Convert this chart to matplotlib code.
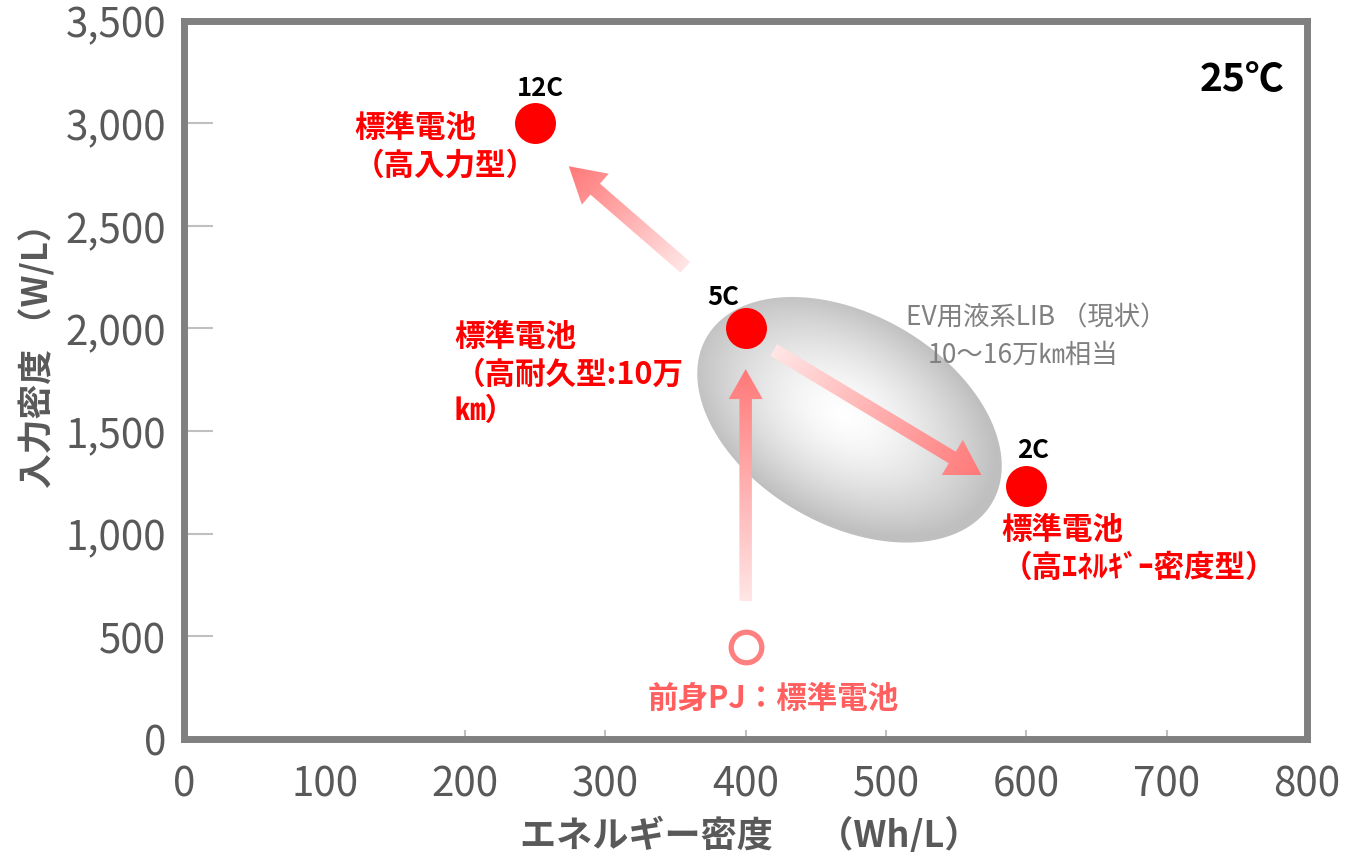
import numpy as np
import matplotlib.pyplot as plt
from matplotlib.patches import Polygon
from matplotlib.ticker import FuncFormatter
from matplotlib.colors import to_rgb

plt.rcParams['font.family'] = ['Noto Sans CJK JP', 'DejaVu Sans']

# cells at 25 degC: energy density (Wh/L) vs input power density (W/L)
rates = ['12C', '5C', '2C']
energy = [250, 400, 600]
power = [3000, 2000, 1230]
names = ['標準電池\n（高入力型）',
         '標準電池\n（高耐久型:10万\n㎞）',
         '標準電池\n（高ｴﾈﾙｷﾞｰ密度型）']

# predecessor project cell
prev_energy = [400]
prev_power = [450]
prev_name = '前身PJ：標準電池'

# arrows (tail -> head) in data units
arrow_tail = [(400, 670), (420, 1895), (357, 2298)]
arrow_head = [(400, 1802), (568, 1286), (274, 2790)]

xticks = [0, 100, 200, 300, 400, 500, 600, 700, 800]
yticks = [0, 500, 1000, 1500, 2000, 2500, 3000, 3500]

# figure / axes geometry in pixels
W, H = 1350, 853
AX_L, AX_R, AX_T, AX_B = 184.3, 1307.0, 21.5, 740.0
sx = (AX_R - AX_L) / 800.0
sy = (AX_B - AX_T) / 3500.0


def fig_xy(px, py):
    return px / W, 1 - py / H


def gradient_fill(ax, poly_px, value_fn, color_fn, zorder):
    # poly_px is in pixels measured from the axes origin (y up)
    verts = np.column_stack([poly_px[:, 0] / sx, poly_px[:, 1] / sy])
    patch = Polygon(verts, closed=True, fc='none', ec='none')
    ax.add_patch(patch)
    x0, y0 = poly_px.min(0)
    x1, y1 = poly_px.max(0)
    nx = int(x1 - x0) + 2
    ny = int(y1 - y0) + 2
    gx, gy = np.meshgrid(np.linspace(x0, x1, nx), np.linspace(y1, y0, ny))
    rgb = color_fn(value_fn(gx, gy))
    im = ax.imshow(rgb, extent=[x0 / sx, x1 / sx, y0 / sy, y1 / sy],
                   aspect='auto', interpolation='bilinear', origin='upper',
                   zorder=zorder)
    im.set_clip_path(patch)


def arrow_poly(p0, p1, shaft, head, head_len):
    p0 = np.array(p0, float)
    p1 = np.array(p1, float)
    u = (p1 - p0) / np.linalg.norm(p1 - p0)
    n = np.array([-u[1], u[0]])
    b = p1 - u * head_len
    return np.array([p0 + n * shaft / 2, b + n * shaft / 2, b + n * head / 2, p1,
                     b - n * head / 2, b - n * shaft / 2, p0 - n * shaft / 2])


def main():
    fig = plt.figure(figsize=(W / 100, H / 100), dpi=100)
    ax = fig.add_axes([AX_L / W, 1 - AX_B / H, (AX_R - AX_L) / W, (AX_B - AX_T) / H])

    # grey ellipse with a white centre (current liquid LIB for EV)
    cx, cy = 474 * sx, 1555 * sy
    ea, eb, ang = 165.0, 105.0, np.deg2rad(-30)
    t = np.linspace(0, 2 * np.pi, 300)
    ex = cx + ea * np.cos(t) * np.cos(ang) - eb * np.sin(t) * np.sin(ang)
    ey = cy + ea * np.cos(t) * np.sin(ang) + eb * np.sin(t) * np.cos(ang)
    ell = np.column_stack([ex, ey])

    def ell_r(gx, gy):
        dx, dy = gx - (cx - 6), gy - (cy + 6)
        u = dx * np.cos(ang) + dy * np.sin(ang)
        v = -dx * np.sin(ang) + dy * np.cos(ang)
        return np.clip(np.sqrt((u / ea) ** 2 + (v / eb) ** 2), 0, 1)

    def ell_col(r):
        g = 0.75 + 0.25 * (1 - r ** 1.5)
        return np.dstack([g, g, g])

    gradient_fill(ax, ell, ell_r, ell_col, zorder=1)

    # pink arrows, pale at the tail and stronger at the head
    tail_c = np.array(to_rgb('#ffe6e6'))
    head_c = np.array(to_rgb('#ff7878'))
    sizes = [(12.5, 34, 30), (13.5, 41, 34), (14.5, 41, 35)]
    for (t0, t1), (shaft, head, hl) in zip(zip(arrow_tail, arrow_head), sizes):
        p0 = np.array([t0[0] * sx, t0[1] * sy])
        p1 = np.array([t1[0] * sx, t1[1] * sy])
        d = p1 - p0
        L = np.linalg.norm(d)
        u = d / L

        def along(gx, gy, p0=p0, u=u, L=L):
            return np.clip(((gx - p0[0]) * u[0] + (gy - p0[1]) * u[1]) / L, 0, 1)

        def col(s):
            return tail_c[None, None, :] + (head_c - tail_c)[None, None, :] * s[:, :, None]

        gradient_fill(ax, arrow_poly(p0, p1, shaft, head, hl), along, col, zorder=2)

    # markers
    ax.plot(energy, power, 'o', ms=29.5, color='#ff0000', mec='none', zorder=4)
    ax.plot(prev_energy, prev_power, 'o', ms=22, mfc='white', mec='#ff8080',
            mew=3.8, zorder=4)

    rate_off = [(5, 35.5), (-22.5, 32), (6.5, 36.5)]
    name_off = [(-181, -22.5), (-291, -45), (-24.5, -61.5)]
    for i in range(len(rates)):
        ax.annotate(rates[i], (energy[i], power[i]), xytext=rate_off[i],
                    textcoords='offset pixels', ha='center', va='center',
                    fontsize=18.5, fontweight='bold', color='black', zorder=5)
        ax.annotate(names[i], (energy[i], power[i]), xytext=name_off[i],
                    textcoords='offset pixels', ha='left', va='center',
                    fontsize=22, fontweight='bold', color='#ff0000',
                    linespacing=1.2, zorder=5)
    ax.annotate(prev_name, (prev_energy[0], prev_power[0]), xytext=(28, -51),
                textcoords='offset pixels', ha='center', va='center',
                fontsize=22, fontweight='bold', color='#ff5f5f', zorder=5)

    fig.text(*fig_xy(1036, 318), 'EV用液系LIB （現状）', ha='center', va='center',
             fontsize=19, color='#808080')
    fig.text(*fig_xy(1023, 355), '10～16万㎞相当', ha='center', va='center',
             fontsize=19, color='#808080')
    fig.text(*fig_xy(1242, 79), '25℃', ha='center', va='center',
             fontsize=28, fontweight='bold', color='black')

    # axes, ticks and frame
    ax.set_xlim(0, 800)
    ax.set_ylim(0, 3500)
    ax.set_xticks(xticks)
    ax.set_yticks(yticks)
    ax.yaxis.set_major_formatter(FuncFormatter(lambda v, p: f'{v:,.0f}'))
    ax.tick_params(axis='both', direction='in', colors='#c0c0c0', width=1.5,
                   labelcolor='#595959', labelsize=29)
    ax.tick_params(axis='y', length=21, pad=13)
    ax.tick_params(axis='x', length=6.5, pad=18)
    for i, tk in enumerate(ax.xaxis.get_major_ticks()):
        if xticks[i] in (0, 100, 800):
            tk.tick1line.set_visible(False)
    for i, tk in enumerate(ax.yaxis.get_major_ticks()):
        if yticks[i] in (0, 3500):
            tk.tick1line.set_visible(False)
    for s in ax.spines.values():
        s.set_color('#808080')
        s.set_linewidth(5)
        s.set_zorder(6)

    fig.text(*fig_xy(750, 836), 'エネルギー密度　 （Wh/L）', ha='center', va='center',
             fontsize=26, fontweight='bold', color='#595959')
    fig.text(*fig_xy(37, 347), '入力密度 （W/L）', ha='center', va='center',
             rotation=90, fontsize=25, fontweight='bold', color='#595959')

    fig.savefig('out.png', dpi=100)


if __name__ == '__main__':
    main()
